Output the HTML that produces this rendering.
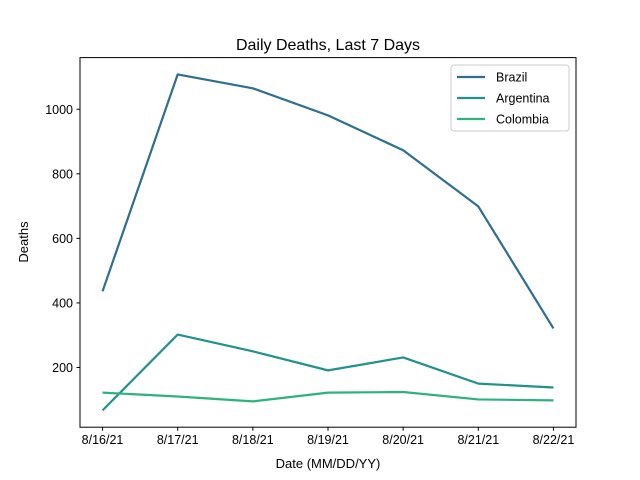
<!DOCTYPE html>
<html><head><meta charset="utf-8"><style>
body{margin:0;background:#fff}
svg{display:block;font-family:"Liberation Sans","DejaVu Sans",sans-serif}
</style></head><body>
<svg id="chart" width="640" height="480"></svg>
<script>
const categories = ["8/16/21","8/17/21","8/18/21","8/19/21","8/20/21","8/21/21","8/22/21"];
const brazil = [436,1108,1065,981,873,699,321];
const argentina = [67,302,250,191,231,150,138];
const colombia = [122,110,95,122,124,101,98];
const yTicks = [200,400,600,800,1000];
const seriesNames = ["Brazil","Argentina","Colombia"];
const seriesColors = ["#2e6e8e","#21918c","#2db27d"];

const NS="http://www.w3.org/2000/svg";
const svg=document.getElementById('chart');
const L=80,R=576,T=57.6,B=427.2;
const all=brazil.concat(argentina,colombia);
let mn=Math.min(...all),mx=Math.max(...all),pad=(mx-mn)*0.05;
const y0=mn-pad,y1=mx+pad;
const n=categories.length;
const xs=i=>{const w=(R-L)/((n-1)*1.1);return L+w*(n-1)*0.05+i*w;};
const ys=v=>B-(v-y0)/(y1-y0)*(B-T);
function mk(t,a,p){const e=document.createElementNS(NS,t);for(const k in a)e.setAttribute(k,a[k]);(p||svg).appendChild(e);return e;}

const title=mk('text',{x:328,y:50,'text-anchor':'middle','font-size':16,fill:'#000'});
title.textContent="Daily Deaths, Last 7 Days";



[[brazil,0],[argentina,1],[colombia,2]].forEach(([d,k])=>{
  const p=mk('polyline',{points:d.map((v,i)=>xs(i)+','+ys(v)).join(' '),fill:'none',stroke:seriesColors[k],'stroke-width':2.2,'stroke-linejoin':'round'});
  
  
});

const frame=mk('rect',{x:L,y:T,width:R-L,height:B-T,fill:'none',stroke:'#000','stroke-width':1});



categories.forEach((c,i)=>{
  const x=xs(i);
  mk('line',{x1:x,x2:x,y1:B,y2:B+3.5,stroke:'#000'});
  const t=mk('text',{x:x,y:B+17,'text-anchor':'middle','font-size':12.5});
  t.textContent=c;
  
  
});
yTicks.forEach(v=>{
  const y=ys(v);
  mk('line',{x1:L-3.5,x2:L,y1:y,y2:y,stroke:'#000'});
  const t=mk('text',{x:L-7,y:y+4.5,'text-anchor':'end','font-size':12.5});
  t.textContent=v;
  
  
});
const xl=mk('text',{x:328,y:468,'text-anchor':'middle','font-size':13});
xl.textContent="Date (MM/DD/YY)";


const yl=mk('text',{x:0,y:0,'text-anchor':'middle','font-size':13,transform:'translate(28,242) rotate(-90)'});
yl.textContent="Deaths";



const lg=mk('g',{});


mk('rect',{x:451,y:65,width:118,height:66,rx:3,fill:'#fff','fill-opacity':0.8,stroke:'#ccc'},lg);
seriesNames.forEach((s,k)=>{
  const y=77+k*21;
  mk('line',{x1:457,x2:485,y1:y,y2:y,stroke:seriesColors[k],'stroke-width':2.2},lg);
  const t=mk('text',{x:496,y:y+4.5,'font-size':12.5},lg);
  t.textContent=s;
  
  
});
</script>
</body></html>
